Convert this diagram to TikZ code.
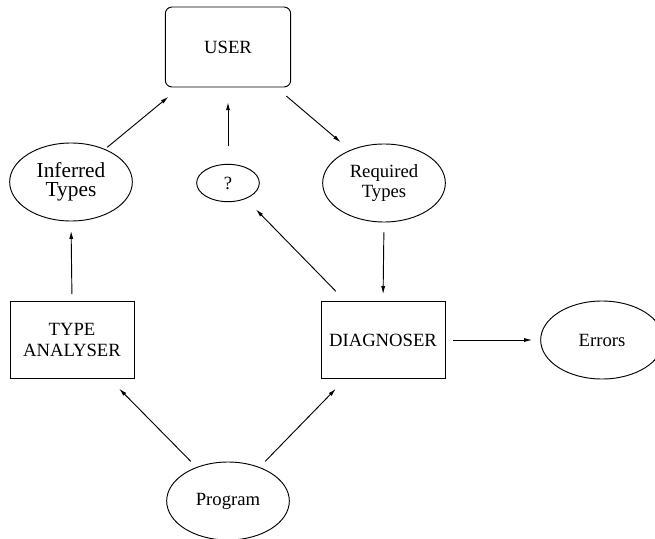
\documentclass[tikz,border=0pt]{standalone}
\usepackage{fontspec}
\setmainfont{Liberation Serif}
\usetikzlibrary{arrows.meta,positioning,shapes}

\begin{document}
\begin{tikzpicture}[x=0.75pt,y=-0.75pt,>={Latex[length=6pt,width=3pt]},line width=0.7pt,
  every node/.style={font=\fontsize{14}{15.5}\selectfont}]
\tikzstyle{box}=[draw,align=center,inner sep=0pt,minimum width=93pt,minimum height=58pt]
\tikzstyle{blob}=[draw,ellipse,align=center,inner sep=0pt,minimum width=92pt,minimum height=58.5pt]
\useasboundingbox (0,0) rectangle (655,538);
\node[box,rounded corners=5pt,minimum width=94pt,minimum height=60pt] (user) at (228,47) {USER};
\node[blob,font=\fontsize{16}{14.5}\selectfont] (inferred) at (71,182) {Inferred\\Types};
\node[blob,minimum width=47pt,minimum height=28pt] (query) at (228,183) {?};
\node[blob] (required) at (384,183) {Required\\Types};
\node[box] (analyser) at (72,340) {TYPE\\ANALYSER};
\node[box] (diag) at (383,340) {DIAGNOSER};
\node[blob] (errors) at (602,340) {Errors};
\node[blob] (prog) at (228,501) {Program};
% arrows
\draw[->,shorten <=2pt,shorten >=11pt] (inferred.44) -- (user.220);
\draw[->,shorten <=13.5pt,shorten >=11pt] (query.north) -- (user.south);
\draw[->,shorten <=10pt,shorten >=9pt] (user.320) -- (required.136);
\draw[->,shorten <=7.5pt,shorten >=5pt] (required.south) -- (diag.north);
\draw[->,shorten <=10pt,shorten >=11pt] (diag.134) -- (query.-42);
\draw[->,shorten <=5pt,shorten >=7pt] (analyser.north) -- (inferred.south);
\draw[->,shorten <=6pt,shorten >=6pt] (diag.east) -- (errors.west);
\draw[->,shorten <=6pt,shorten >=10pt] (prog.133) -- (analyser.-46);
\draw[->,shorten <=6pt,shorten >=10pt] (prog.47) -- (diag.226);
\end{tikzpicture}
\end{document}
